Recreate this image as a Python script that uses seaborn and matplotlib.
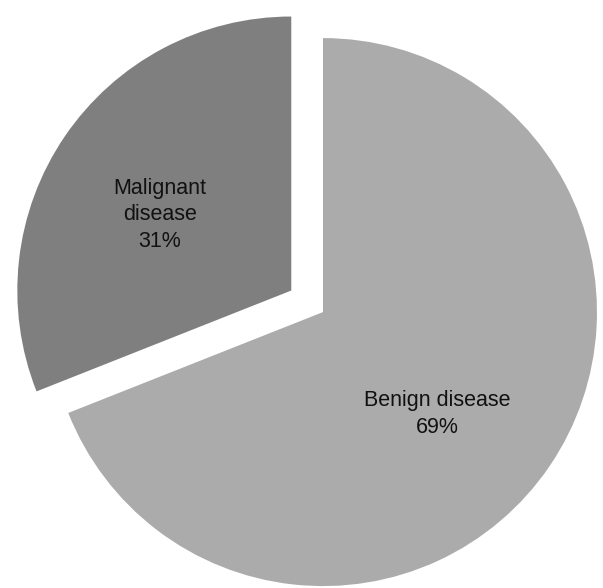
import matplotlib
matplotlib.use("Agg")
import matplotlib.pyplot as plt
import seaborn as sns

# share of patients by diagnosis
categories = ["Benign disease", "Malignant disease"]
shares = [69, 31]
label_texts = ["Benign disease\n69%", "Malignant\ndisease\n31%"]
colors = ["#ababab", "#7f7f7f"]

sns.set_theme(style="white")
plt.rcParams['font.family'] = ['Liberation Sans', 'DejaVu Sans']

fig = plt.figure(figsize=(6.03, 5.88), dpi=100)
ax = fig.add_axes([0, 0, 1, 1])

wedges, _ = ax.pie(shares, colors=colors, startangle=90, counterclock=False,
                   explode=[0, 0.14], radius=1,
                   wedgeprops=dict(linewidth=0))

# label positions inside each slice
ax.text(0.416, -0.372, label_texts[0], ha='center', va='center', fontsize=15.5,
        linespacing=1.35, color='#111111')
ax.text(-0.595, 0.355, label_texts[1], ha='center', va='center', fontsize=15.5,
        linespacing=1.35, color='#111111')

ax.set_aspect('auto')
ax.set_xlim(-1.179, 1.022)
ax.set_ylim(-1.007, 1.139)
ax.axis('off')

fig.savefig("out.png", dpi=100, facecolor='white')
